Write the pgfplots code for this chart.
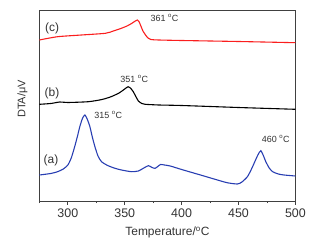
\documentclass[border=0pt]{standalone}
\usepackage{fontspec}
\setmainfont{Liberation Sans}
\usepackage{pgfplots}
\pgfplotsset{compat=1.18}
\definecolor{txt}{HTML}{333333}
\definecolor{axc}{HTML}{404040}
\definecolor{cblue}{RGB}{40,62,178}
\definecolor{cred}{RGB}{250,30,30}
\begin{document}
\begin{tikzpicture}
\begin{axis}[
  scale only axis,
  width=256bp, height=191bp,
  xmin=275, xmax=500, ymin=0, ymax=191,
  axis line style={axc, line width=0.9pt},
  xtick={300,350,400,450,500},
  minor xtick={275,325,375,425,475},
  ytick=\empty,
  xtick pos=bottom,
  tick align=outside,
  major tick length=3.5bp,
  minor tick length=2bp,
  tick style={axc, line width=0.8pt},
  /pgf/number format/assume math mode=true,
  ticklabel style={font=\fontsize{12.5}{13}\selectfont, text=txt},
  xticklabel style={yshift=-1bp},
  xlabel={Temperature/\textsuperscript{o}C},
  xlabel style={font=\fontsize{12}{12}\selectfont, text=txt, yshift=-2bp},
  clip=false,
]
\addplot[cred, line width=1.1pt, smooth, tension=0.4] coordinates {
(275,161) (291,164.3) (312,166) (333,167.7) (340,170) (347,172.7) (352,175)
(356,177.5) (359,179.8) (361,181) (362.5,179.5) (364,175.5) (366,170) (368,166.5)
(370,163.5) (373,161.5) (380,161) (400,160.5) (450,159.5) (500,158.3)};
\addplot[black, line width=1.1pt, smooth, tension=0.4] coordinates {
(275,96.7) (285,97.5) (293,99) (300,98.5) (318,99.3) (330,101.5) (338,104.3)
(345,108) (350,112) (353,114.3) (355,113) (357.5,109.3) (360,104) (362,100)
(365,97.5) (368,96.7) (380,96) (400,95.5) (450,93.5) (500,91.7)};
\addplot[cblue, line width=1.1pt, smooth, tension=0.4] coordinates {
(275,26) (285,27.5) (291,29.3) (296,32) (300,36) (303,43) (306,54.3) (308.5,65)
(310.5,74.3) (313,83) (315,86) (317,82) (319.4,74.3) (321.5,64) (323.8,54.3)
(326.5,45) (329.6,39.3) (335,35.5) (341.4,32.7) (348,30.8) (356,29.3) (362,30)
(366,32.5) (370.8,35.3) (374,33.5) (376.7,32.7) (379,34.5) (381.5,36.5) (385,36)
(390,35) (400,31.5) (416.6,26) (430,21.5) (440,18.3) (449,17) (453,19) (457.8,24.3)
(461,31) (463.7,37.7) (467,46) (469.6,50.3) (472,45) (474,39.3) (477,33) (480,29.3)
(485,27) (490,26) (500,25)};
\node[font=\fontsize{12}{12}\selectfont, text=txt] at (axis cs:286.1,173) {(c)};
\node[font=\fontsize{12}{12}\selectfont, text=txt] at (axis cs:286.1,108) {(b)};
\node[font=\fontsize{12}{12}\selectfont, text=txt] at (axis cs:285.2,41) {(a)};
\node[font=\fontsize{9}{9}\selectfont, text=txt] at (axis cs:384.9,183) {361 \textsuperscript{o}C};
\node[font=\fontsize{9}{9}\selectfont, text=txt] at (axis cs:358.4,122) {351 \textsuperscript{o}C};
\node[font=\fontsize{9}{9}\selectfont, text=txt] at (axis cs:335.5,86) {315 \textsuperscript{o}C};
\node[font=\fontsize{9}{9}\selectfont, text=txt] at (axis cs:482.8,62) {460 \textsuperscript{o}C};
\node[font=\fontsize{11}{11}\selectfont, text=txt, rotate=90] at ([xshift=-17bp]rel axis cs:0,0.534) {DTA/μV};
\end{axis}
\pgfresetboundingbox
\path (-39.4bp,-41bp) rectangle (275.6bp,201bp);
\end{tikzpicture}
\end{document}
